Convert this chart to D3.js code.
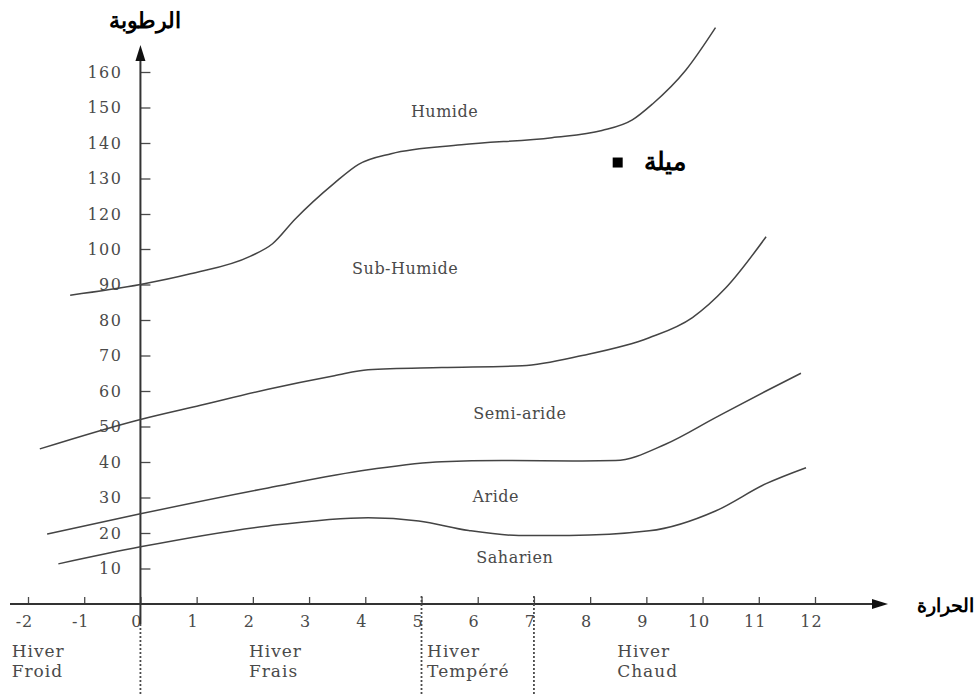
<!DOCTYPE html>
<html>
<head>
<meta charset="utf-8">
<script src="https://cdn.jsdelivr.net/npm/d3@7"></script>
<style>
  body { margin: 0; background: #fff; }
  svg { display: block; }
</style>
</head>
<body>
<div id="chart"></div>
<script>
// tick labels as printed on the original figure (110 is missing there)
var xTicks = [-2, -1, 0, 1, 2, 3, 4, 5, 6, 7, 8, 9, 10, 11, 12];
var yTicks = [10, 20, 30, 40, 50, 60, 70, 80, 90, 100, 120, 130, 140, 150, 160];

// limit curves, temperature (x) and humidity (y)
var humideX = [-1.25, 0, 0.89, 1.96, 2.35, 2.75, 3.45, 3.88, 4.46, 5.71, 7.32, 8.21, 8.75, 9.11, 9.70, 10.23];
var humideY = [87, 90, 93, 98, 103, 117, 128.7, 134, 137, 139.5, 141.5, 143.5, 146.5, 151, 160.5, 172.5];

var subHumideX = [-1.79, 0, 1.07, 2.27, 3.45, 4.05, 5.36, 6.79, 7.86, 9.05, 9.82, 10.41, 11.13];
var subHumideY = [43.7, 52, 56, 60.5, 64.3, 66, 66.6, 67.1, 70, 75, 80.7, 89, 107];

var semiArideX = [-1.66, 0, 2.27, 4.05, 5.36, 6.43, 7.86, 8.45, 9.34, 10.23, 11.13, 11.75];
var semiArideY = [19.7, 25.4, 32.7, 37.8, 40.1, 40.4, 40.3, 40.4, 45, 52.5, 60, 65];

var arideX = [-1.46, 0, 2.27, 4.05, 4.95, 5.84, 6.73, 7.63, 9.05, 10.23, 11.13, 11.84];
var arideY = [11.3, 16.1, 22, 24.3, 23.4, 20.7, 19.3, 19.3, 20.6, 26.2, 33.9, 38.4];

// zone names inside the plot
var zoneNames = ["Humide", "Sub-Humide", "Semi-aride", "Aride", "Saharien"];
var zoneX = [5.41, 4.71, 6.75, 6.32, 6.66];
var zoneY = [148.8, 94.5, 53.6, 30.2, 13.0];

// winter types under the x axis
var winterTop = ["Hiver", "Hiver", "Hiver", "Hiver"];
var winterBottom = ["Froid", "Frais", "Tempéré", "Chaud"];
var winterStart = [-2.29, 1.93, 5.1, 8.48];
var winterBounds = [0, 5, 7];

// station
var stationName = "ميلة";
var stationX = [8.49];
var stationY = [134.5];

var width = 976, height = 698;

var x = d3.scaleLinear().domain([-2, 12]).range([28, 815]);
var y = d3.scaleLinear().domain([0, 100, 120, 160]).range([604, 249, 214, 72]);

var svg = d3.select("#chart").append("svg")
    .attr("width", width)
    .attr("height", height);

var ink = "#333";
var grey = "#4a4a4a";
var serif = "'DejaVu Serif', 'Liberation Serif', serif";
var sans = "'Liberation Sans', Arial, sans-serif";

// x axis
var xAxis = svg.append("g")
    .attr("transform", "translate(0," + y(0) + ")")
    .call(d3.axisBottom(x).tickValues(xTicks).tickSize(-7).tickPadding(12)
        .tickFormat(function (d) { return String(d); }));
xAxis.select(".domain").remove();
xAxis.selectAll(".tick line").attr("stroke", grey).attr("stroke-width", 1.3);
xAxis.selectAll(".tick text")
    .attr("dx", -4)
    .attr("fill", grey)
    .style("font-family", serif)
    .style("font-size", "16px")
    .style("letter-spacing", "1px");

svg.append("line")
    .attr("x1", 10).attr("x2", 872)
    .attr("y1", y(0)).attr("y2", y(0))
    .attr("stroke", ink).attr("stroke-width", 2);
svg.append("path")
    .attr("d", "M872," + (y(0) - 5) + "L888," + y(0) + "L872," + (y(0) + 5) + "Z")
    .attr("fill", "#111");

// y axis
var yAxis = svg.append("g")
    .attr("transform", "translate(" + x(0) + ",0)")
    .call(d3.axisRight(y).tickValues(yTicks).tickSize(10));
yAxis.select(".domain").remove();
yAxis.selectAll(".tick line").attr("stroke", grey).attr("stroke-width", 1.3);
yAxis.selectAll(".tick text")
    .attr("x", -18)
    .attr("text-anchor", "end")
    .attr("fill", grey)
    .style("font-family", serif)
    .style("font-size", "16px")
    .style("letter-spacing", "1.5px");

svg.append("line")
    .attr("x1", x(0)).attr("x2", x(0))
    .attr("y1", y(0) + 20).attr("y2", 60)
    .attr("stroke", ink).attr("stroke-width", 2);
svg.append("path")
    .attr("d", "M" + (x(0) - 5) + ",61L" + x(0) + ",45L" + (x(0) + 5) + ",61Z")
    .attr("fill", "#111");

// dotted boundaries between winter types
svg.selectAll(".bound")
    .data(winterBounds)
    .enter().append("line")
    .attr("class", "bound")
    .attr("x1", function (d) { return x(d); })
    .attr("x2", function (d) { return x(d); })
    .attr("y1", function (d) { return d === 0 ? y(0) + 20 : y(0) - 8; })
    .attr("y2", 694)
    .attr("stroke", grey)
    .attr("stroke-width", 1.8)
    .attr("stroke-dasharray", "2,2");

// curves
var line = d3.line()
    .x(function (d) { return x(d[0]); })
    .y(function (d) { return y(d[1]); })
    .curve(d3.curveMonotoneX);

var curves = [
    d3.zip(humideX, humideY),
    d3.zip(subHumideX, subHumideY),
    d3.zip(semiArideX, semiArideY),
    d3.zip(arideX, arideY)
];

svg.selectAll(".limit")
    .data(curves)
    .enter().append("path")
    .attr("class", "limit")
    .attr("d", line)
    .attr("fill", "none")
    .attr("stroke", "#444")
    .attr("stroke-width", 1.5);

// zone names
svg.selectAll(".zone")
    .data(zoneNames)
    .enter().append("text")
    .attr("class", "zone")
    .attr("x", function (d, i) { return x(zoneX[i]); })
    .attr("y", function (d, i) { return y(zoneY[i]); })
    .attr("dy", "0.35em")
    .attr("text-anchor", "middle")
    .attr("fill", grey)
    .style("font-family", serif)
    .style("font-size", "16px")
    .style("letter-spacing", "0.5px")
    .text(function (d) { return d; });

// winter types
var winters = svg.selectAll(".winter")
    .data(winterTop)
    .enter().append("text")
    .attr("class", "winter")
    .attr("fill", grey)
    .style("font-family", serif)
    .style("font-size", "17px")
    .style("letter-spacing", "1px");
winters.append("tspan")
    .attr("x", function (d, i) { return x(winterStart[i]); })
    .attr("y", 657)
    .text(function (d) { return d; });
winters.append("tspan")
    .attr("x", function (d, i) { return x(winterStart[i]); })
    .attr("y", 677)
    .text(function (d, i) { return winterBottom[i]; });

// station marker
svg.selectAll(".station")
    .data(stationX)
    .enter().append("rect")
    .attr("class", "station")
    .attr("x", function (d) { return x(d) - 5; })
    .attr("y", function (d, i) { return y(stationY[i]) - 5; })
    .attr("width", 10)
    .attr("height", 10)
    .attr("fill", "#000");
svg.selectAll(".stationLabel")
    .data(stationX)
    .enter().append("text")
    .attr("class", "stationLabel")
    .attr("x", function (d) { return x(d) + 47; })
    .attr("y", function (d, i) { return y(stationY[i]); })
    .attr("dy", "0.3em")
    .attr("text-anchor", "middle")
    .style("font-family", sans)
    .style("font-size", "25px")
    .style("font-weight", "bold")
    .text(stationName);

// axis titles
svg.append("text")
    .attr("x", x(0) + 5)
    .attr("y", 28)
    .attr("text-anchor", "middle")
    .style("font-family", sans)
    .style("font-size", "22px")
    .style("font-weight", "bold")
    .text("الرطوبة");

svg.append("text")
    .attr("x", 974)
    .attr("y", y(0) + 8)
    .attr("text-anchor", "end")
    .style("font-family", sans)
    .style("font-size", "19px")
    .style("font-weight", "bold")
    .text("الحرارة");
</script>
</body>
</html>
